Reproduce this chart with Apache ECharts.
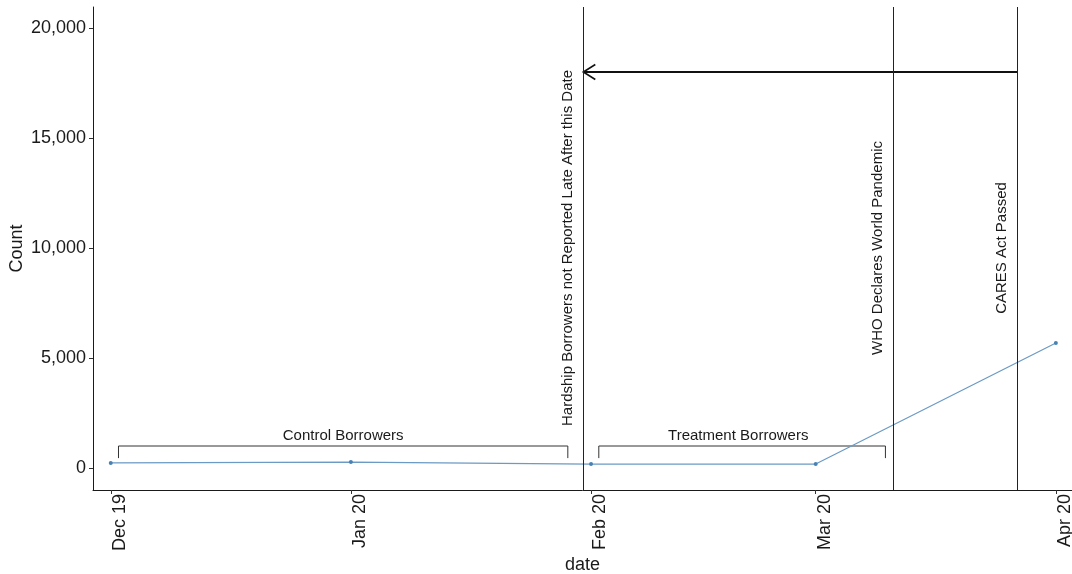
<!DOCTYPE html>
<html>
<head>
<meta charset="utf-8">
<script src="https://cdn.jsdelivr.net/npm/echarts@6/dist/echarts.min.js"></script>
<style>
html,body{margin:0;padding:0;background:#fff;}
#chart{width:1072px;height:574px;}
</style>
</head>
<body>
<div id="chart"></div>
<script>
// ---- data ----
const months = ['2019-12-01', '2020-01-01', '2020-02-01', '2020-03-01', '2020-04-01'];
const monthLabels = ['Dec 19', 'Jan 20', 'Feb 20', 'Mar 20', 'Apr 20'];
const counts = [230, 270, 180, 180, 5680];
const yTicks = [0, 5000, 10000, 15000, 20000];

const eventDates = ['2020-01-31', '2020-03-11', '2020-03-27'];
const eventLabels = ['Hardship Borrowers not Reported Late After this Date', 'WHO Declares World Pandemic', 'CARES Act Passed'];
const eventLabelDates = ['2020-01-29', '2020-03-09', '2020-03-25'];
const eventLabelValues = [10000, 10000, 10000];

const bracketStarts = ['2019-12-02', '2020-02-02'];
const bracketEnds = ['2020-01-29', '2020-03-10'];
const bracketTop = [1000, 1000];
const bracketBottom = [450, 450];
const bracketLabels = ['Control Borrowers', 'Treatment Borrowers'];
const bracketLabelDates = ['2019-12-31', '2020-02-20'];
const bracketLabelValues = [1450, 1450];

const arrowFrom = '2020-03-27';
const arrowTo = '2020-01-31';
const arrowValue = 18000;

const xMin = '2019-11-28T17:00:00Z';
const xMax = '2020-04-03T02:00:00Z';
const yMin = -1000;
const yMax = 20955;

// ---- helpers ----
const ts = s => (s.length === 10 ? Date.parse(s + 'T00:00:00Z') : Date.parse(s));
const FONT = '"Liberation Sans", Arial, sans-serif';
const INK = '#1a1a1a';
const monthTs = months.map(ts);

const chart = echarts.init(document.getElementById('chart'), null, {renderer: 'canvas'});

const option = {
  animation: false,
  backgroundColor: '#fff',
  grid: {left: 93, right: 0, top: 7, bottom: 84, containLabel: false, outerBoundsMode: 'none'},
  xAxis: {
    type: 'value',
    min: ts(xMin),
    max: ts(xMax),
    name: 'date',
    nameLocation: 'middle',
    nameGap: 66,
    nameMoveOverlap: false,
    nameTextStyle: {fontFamily: FONT, fontSize: 18, color: INK},
    axisLine: {show: true, onZero: false, lineStyle: {color: INK, width: 1}},
    axisTick: {show: true, length: 4, customValues: monthTs, lineStyle: {color: '#333'}},
    axisLabel: {
      customValues: monthTs,
      rotate: 90,
      margin: 4,
      verticalAlign: 'top',
      fontFamily: FONT, fontSize: 18, color: INK,
      formatter: v => {
        const i = monthTs.indexOf(v);
        return i >= 0 ? monthLabels[i] : '';
      }
    },
    splitLine: {show: false}
  },
  yAxis: {
    type: 'value',
    min: yMin,
    max: yMax,
    name: 'Count',
    nameLocation: 'middle',
    nameGap: 67,
    nameMoveOverlap: false,
    nameRotate: 90,
    nameTextStyle: {fontFamily: FONT, fontSize: 18, color: INK},
    axisLine: {show: true, onZero: false, lineStyle: {color: INK, width: 1}},
    axisTick: {show: true, length: 4, customValues: yTicks, lineStyle: {color: '#333'}},
    axisLabel: {
      customValues: yTicks,
      margin: 7,
      fontFamily: FONT, fontSize: 18, color: INK,
      formatter: v => Number(v).toLocaleString('en-US')
    },
    splitLine: {show: false}
  },
  series: [
    {
      type: 'line',
      data: months.map((m, i) => [ts(m), counts[i]]),
      symbol: 'circle',
      symbolSize: 4,
      itemStyle: {color: '#4682B4'},
      lineStyle: {color: '#6b9ac4', width: 1.2},
      z: 3,
      markLine: {
        silent: true,
        symbol: ['none', 'none'],
        label: {show: false},
        lineStyle: {color: '#222', width: 1, type: 'solid'},
        data: eventDates.map(d => ({xAxis: ts(d)}))
      }
    },
    {
      type: 'custom',
      silent: true,
      data: bracketStarts.map((s, i) => [ts(s), ts(bracketEnds[i]), bracketTop[i], bracketBottom[i]]),
      encode: {x: [0, 1], y: [2, 3]},
      renderItem: (params, api) => {
        const s = api.coord([api.value(0), api.value(2)]);
        const e = api.coord([api.value(1), api.value(2)]);
        const b = api.coord([api.value(0), api.value(3)]);
        return {
          type: 'polyline',
          shape: {points: [[s[0], b[1]], s, e, [e[0], b[1]]]},
          style: {stroke: '#333', fill: null, lineWidth: 1}
        };
      },
      z: 2
    },
    {
      type: 'custom',
      silent: true,
      data: bracketLabels.map((l, i) => [ts(bracketLabelDates[i]), bracketLabelValues[i]]),
      encode: {x: 0, y: 1},
      renderItem: (params, api) => {
        const p = api.coord([api.value(0), api.value(1)]);
        return {
          type: 'text', x: p[0], y: p[1],
          style: {text: bracketLabels[params.dataIndex], fontFamily: FONT, fontSize: 15, fill: INK, align: 'center', verticalAlign: 'middle'}
        };
      },
      z: 4
    },
    {
      type: 'custom',
      silent: true,
      data: eventLabels.map((l, i) => [ts(eventLabelDates[i]), eventLabelValues[i]]),
      encode: {x: 0, y: 1},
      renderItem: (params, api) => {
        const p = api.coord([api.value(0), api.value(1)]);
        return {
          type: 'text', x: p[0], y: p[1], rotation: Math.PI / 2,
          style: {text: eventLabels[params.dataIndex], fontFamily: FONT, fontSize: 15, fill: INK, align: 'center', verticalAlign: 'middle'}
        };
      },
      z: 4
    },
    {
      type: 'custom',
      silent: true,
      data: [[ts(arrowFrom), ts(arrowTo), arrowValue]],
      encode: {x: [0, 1], y: 2},
      renderItem: (params, api) => {
        const a = api.coord([api.value(0), api.value(2)]);
        const b = api.coord([api.value(1), api.value(2)]);
        return {
          type: 'group',
          children: [
            {type: 'line', shape: {x1: a[0], y1: a[1], x2: b[0], y2: b[1]}, style: {stroke: '#111', lineWidth: 2}},
            {type: 'polyline', shape: {points: [[b[0] + 12, b[1] - 7.5], [b[0], b[1]], [b[0] + 12, b[1] + 7.5]]}, style: {stroke: '#111', fill: null, lineWidth: 1.6}}
          ]
        };
      },
      z: 4
    }
  ]
};
chart.setOption(option);
</script>
</body>
</html>
